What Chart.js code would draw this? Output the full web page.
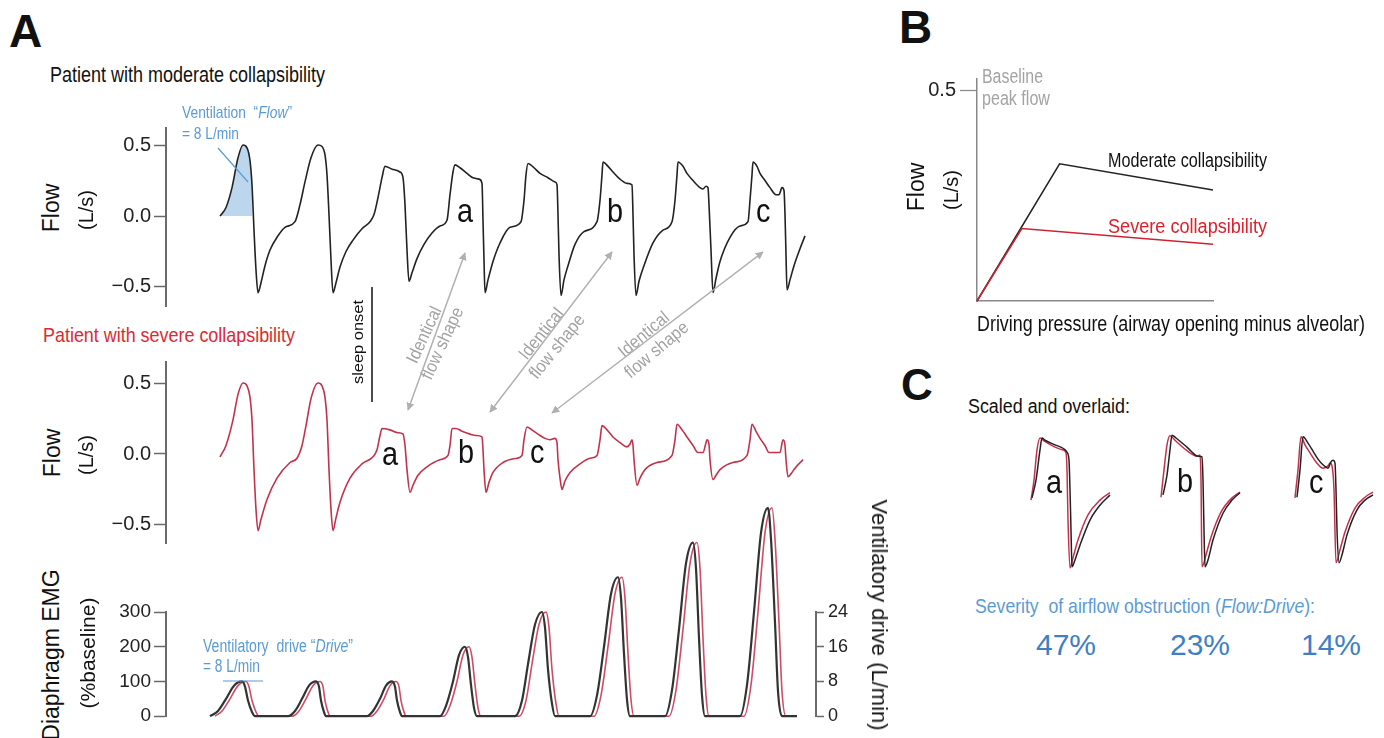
<!DOCTYPE html>
<html><head><meta charset="utf-8">
<script src="https://cdn.jsdelivr.net/npm/chart.js@4.4.1/dist/chart.umd.min.js"></script>
<style>
html,body{margin:0;padding:0;background:#fff;}
body{width:1384px;height:738px;position:relative;overflow:hidden;font-family:"Liberation Sans",Arial,sans-serif;color:#111;}
canvas{position:absolute;}
.t{position:absolute;white-space:nowrap;line-height:1;transform-origin:0 0;}
svg{position:absolute;left:0;top:0;}
</style></head><body>
<script>
// ---------------- DATA ----------------
// time in 50 ms samples, flow in L/s
const moderateT = [0,6,12,18,23,27,30,32,34,36,38,41,45,50,57,65,75,
80,85,91,98,102,105,107,109,111,113,116,120,126,133,142,150,
154,158,162,165,172,180,183,185,187,189,192,197,204,212,220,227,
230,233,235,240,247,253,259,262,263,264,265,268,273,280,290,301,
304,306,308,314,320,328,335,337,338,339,341,344,348,355,364,377,
380,382,383,388,393,400,407,412,413,414,416,419,424,433,443,452,
455,457,458,463,467,473,480,483,486,488,489,491,493,496,500,510,520,528,
530,532,533,537,540,545,550,556,559,562,564,565,566,567,570,574,580,585];
const moderateFlow = [0,0.06,0.20,0.41,0.50,0.48,0.39,0.22,-0.10,-0.38,-0.54,-0.47,-0.35,-0.24,-0.15,-0.08,-0.04,
0.08,0.24,0.41,0.50,0.49,0.43,0.29,0.01,-0.31,-0.54,-0.47,-0.36,-0.25,-0.17,-0.09,-0.04,
0.01,0.13,0.27,0.35,0.33,0.31,0.27,0.08,-0.24,-0.46,-0.40,-0.30,-0.20,-0.12,-0.07,-0.03,
0.15,0.31,0.36,0.34,0.30,0.27,0.26,0.23,-0.03,-0.31,-0.54,-0.45,-0.32,-0.19,-0.08,-0.04,
0.11,0.29,0.37,0.34,0.30,0.27,0.24,0.22,0.01,-0.27,-0.56,-0.45,-0.35,-0.20,-0.11,-0.04,
0.11,0.29,0.38,0.35,0.31,0.26,0.23,0.22,0.01,-0.27,-0.56,-0.46,-0.35,-0.19,-0.10,-0.04,
0.11,0.29,0.38,0.35,0.30,0.25,0.20,0.19,0.21,0.20,0.08,-0.24,-0.54,-0.44,-0.32,-0.15,-0.07,-0.04,
0.11,0.29,0.38,0.35,0.30,0.25,0.20,0.15,0.15,0.20,0.18,0.01,-0.27,-0.52,-0.45,-0.35,-0.23,-0.14];
const ventilationPoints = 8; // first inspiration (shaded "Flow" area)

const severeT = [0,6,13,18,23,27,30,32,34,36,38,41,47,57,70,77,
82,86,91,98,102,105,107,109,111,113,116,120,130,142,153,
157,160,162,170,178,183,185,187,190,193,198,207,220,228,
230,232,236,242,250,256,262,263,264,266,269,273,283,297,302,
304,307,312,318,325,330,335,337,338,340,342,345,350,360,370,377,
380,382,387,393,400,407,410,412,413,414,417,420,425,437,452,
455,457,462,467,473,478,483,486,487,489,490,493,496,500,513,527,
530,532,536,540,545,549,555,560,563,565,566,568,571,575,583];
const severeFlow = [-0.02,0.06,0.24,0.42,0.50,0.48,0.40,0.24,-0.11,-0.39,-0.54,-0.46,-0.32,-0.17,-0.06,-0.03,
0.06,0.20,0.39,0.50,0.48,0.40,0.24,-0.11,-0.39,-0.54,-0.45,-0.34,-0.17,-0.07,-0.02,
0.03,0.13,0.18,0.17,0.15,0.14,0.06,-0.11,-0.27,-0.22,-0.15,-0.09,-0.04,-0.01,
0.06,0.18,0.18,0.16,0.14,0.13,0.12,0.03,-0.11,-0.27,-0.20,-0.13,-0.06,-0.03,-0.01,
0.10,0.19,0.17,0.14,0.11,0.10,0.11,0.08,-0.04,-0.17,-0.25,-0.19,-0.13,-0.07,-0.03,-0.01,
0.10,0.20,0.17,0.12,0.08,0.05,0.07,0.10,0.06,-0.04,-0.22,-0.17,-0.11,-0.06,-0.01,
0.10,0.21,0.17,0.12,0.06,0.01,0.01,0.08,0.10,0.07,-0.04,-0.18,-0.15,-0.11,-0.06,-0.01,
0.10,0.21,0.16,0.11,0.06,0.01,0.01,0.01,0.10,0.06,-0.04,-0.16,-0.14,-0.10,-0.04];

// diaphragm EMG, % of baseline (8 L/min = 100 %)
const emgModerateT = [-10,-2,6,14,22,25,28,32,35, 68,75,82,89,96,99,101,104,106, 147,153,160,166,172,175,177,180,182, 220,226,233,239,245,248,251,254,257, 295,302,308,315,322,325,328,332,335, 370,377,384,391,398,401,404,407,410, 445,452,459,466,473,476,479,482,485, 520,527,534,541,548,551,555,558,562, 577];
const emgModerate = [0,15,50,88,100,85,45,12,0, 0,15,50,88,100,85,45,12,0, 0,15,50,88,100,85,45,12,0, 0,30,100,176,200,170,90,24,0, 0,45,150,264,300,255,135,36,0, 0,60,200,352,400,340,180,48,0, 0,75,250,440,500,425,225,60,0, 0,90,300,528,600,510,270,72,0, 0];
const emgSevereT = [-5,2,10,18,26,29,32,36,39, 72,79,86,93,100,103,105,108,110, 151,157,164,170,176,179,181,184,186, 224,230,237,243,249,252,255,258,261, 299,306,312,319,326,329,332,336,339, 374,381,388,395,402,405,408,411,414, 449,456,463,470,477,480,483,486,489, 524,531,538,545,552,555,559,562,566, 577];
const emgSevere = [0,15,50,88,100,85,45,12,0, 0,15,50,88,100,85,45,12,0, 0,15,50,88,100,85,45,12,0, 0,30,100,176,200,170,90,24,0, 0,45,150,264,300,255,135,36,0, 0,60,200,352,400,340,180,48,0, 0,75,250,440,500,425,225,60,0, 0,90,300,528,600,510,270,72,0, 0];

// Panel B: pressure-flow relationship
const bModerateP = [0, 0.35, 1.0];
const bModerateFlow = [0, 0.326, 0.264];
const bSevereP = [0, 0.19, 1.0];
const bSevereFlow = [0, 0.172, 0.135];

// Panel C: scaled flow shapes (relative time, flow scaled to peak)
const cAModT = [7,11,15,17,20,30,38,42,44,45,46,47,50,55,65,75,85];
const cAMod = [-0.05,0.26,0.79,1.0,0.96,0.88,0.82,0.75,0.61,0.09,-0.61,-1.26,-1.14,-0.88,-0.44,-0.18,0];
const cASevT = [6,9,12,15,19,30,38,41,42,43,45,48,53,63,75,85];
const cASev = [-0.09,0.26,0.79,1.0,0.95,0.84,0.79,0.74,0.44,-0.44,-1.28,-1.1,-0.79,-0.35,-0.09,0.04];
const cBModT = [8,12,15,17,21,32,43,47,48,49,50,53,58,68,77,85];
const cBMod = [0,0.35,0.79,1.05,1.0,0.84,0.68,0.67,0.26,-0.61,-1.26,-1.14,-0.79,-0.32,-0.09,0.04];
const cBSevT = [6,9,12,15,20,31,42,45,46,47,51,56,66,77,85];
const cBSev = [-0.04,0.44,0.88,1.04,0.96,0.79,0.68,0.70,0.26,-1.26,-1.05,-0.74,-0.30,-0.05,0.05];
const cCModT = [7,10,13,18,23,28,33,38,41,43,45,46,47,49,52,57,67,75,83];
const cCMod = [-0.04,0.44,1.02,0.91,0.77,0.63,0.53,0.47,0.58,0.61,0.56,0.09,-0.61,-1.19,-1.05,-0.70,-0.26,-0.09,0];
const cCSevT = [5,8,11,15,20,26,33,38,40,42,44,46,50,55,65,75,83];
const cCSev = [-0.05,0.44,1.02,0.88,0.74,0.58,0.47,0.51,0.56,0.51,0.09,-1.19,-0.96,-0.65,-0.23,-0.04,0.05];

// tick labels
const flowTicks = [-0.5, 0, 0.5];
const flowTickLabels = ['\u22120.5', '0.0', '0.5'];
const emgTicks = [0, 100, 200, 300];
const emgTickLabels = ['0', '100', '200', '300'];
const driveTicks = [0, 8, 16, 24];
const driveTickLabels = ['0', '8', '16', '24'];
const bTicks = [0.5];
const bTickLabels = ['0.5'];
const severityLabels = ['47%', '23%', '14%'];

// ---------------- DRAWING ----------------
const FONT = '"Liberation Sans", Arial, sans-serif';
Chart.defaults.font.family = FONT;
const BLACK = '#222', RED = '#c3324d', AX = '#6a6a6a';
const BLUE = '#5b9bd5', BLUE2 = '#3f7fc4';

function series(xs, ys, color, width, extra) {
  return Object.assign({
    data: xs.map((x, i) => ({x: x, y: ys[i]})),
    borderColor: color, borderWidth: width, pointRadius: 0,
    cubicInterpolationMode: 'monotone', fill: false, clip: false
  }, extra || {});
}
function yAxis(min, max, ticks, labels, o) {
  return {
    type: 'linear', position: o.pos || 'left', min: min, max: max,
    afterBuildTicks: s => { s.ticks = ticks.map(v => ({value: v})); },
    afterFit: s => { s.width = o.w; },
    grid: {display: true, drawOnChartArea: false, drawTicks: true, tickLength: o.tl,
           tickColor: o.color || AX, tickWidth: o.tw || 1.5, color: o.color || AX},
    border: {display: true, color: o.color || AX, width: o.bw || 2},
    ticks: {color: '#222', font: {size: o.fs, family: FONT}, padding: o.pad,
            autoSkip: false, maxRotation: 0, callback: (v, i) => labels[i]}
  };
}
function mkChart(area, pad, axW, datasets, scales) {
  const cv = document.createElement('canvas');
  const W = area.w + pad.l + pad.r, H = area.h + pad.t + pad.b;
  cv.width = W; cv.height = H;
  cv.style.left = (area.l - pad.l) + 'px'; cv.style.top = (area.t - pad.t) + 'px';
  cv.style.width = W + 'px'; cv.style.height = H + 'px';
  document.body.appendChild(cv);
  return new Chart(cv, {
    type: 'line',
    data: {datasets: datasets},
    options: {
      responsive: false, animation: false, events: [],
      layout: {padding: {left: pad.l - (axW.l || 0), right: pad.r - (axW.r || 0), top: pad.t, bottom: pad.b}},
      plugins: {legend: {display: false}, tooltip: {enabled: false}},
      scales: scales
    }
  });
}
const xTime = {type: 'linear', min: -54, max: 596, display: false};

// Panel A – moderate collapsibility flow
mkChart({l: 166, t: 128, w: 650, h: 178}, {l: 80, t: 16, r: 10, b: 16}, {l: 70}, [
  series(moderateT, moderateFlow, BLACK, 1.6),
  series(moderateT.slice(0, ventilationPoints), moderateFlow.slice(0, ventilationPoints), 'rgba(0,0,0,0)', 0,
         {fill: 'origin', backgroundColor: '#bcd6ee'})
], {x: xTime, y: yAxis(-0.634, 0.62, flowTicks, flowTickLabels, {w: 70, tl: 12, fs: 20, pad: 3})});

// Panel A – severe collapsibility flow
mkChart({l: 166, t: 362, w: 650, h: 181}, {l: 80, t: 16, r: 10, b: 16}, {l: 70}, [
  series(severeT, severeFlow, RED, 1.6)
], {x: xTime, y: yAxis(-0.627, 0.648, flowTicks, flowTickLabels, {w: 70, tl: 12, fs: 20, pad: 3})});

// Panel A – diaphragm EMG / drive
mkChart({l: 166, t: 612, w: 650, h: 105}, {l: 80, t: 120, r: 60, b: 14}, {l: 70, r: 50}, [
  series(emgModerateT, emgModerate, '#333', 2.2),
  series(emgSevereT, emgSevere, '#d24a66', 1.6)
], {x: xTime,
    y: yAxis(0, 300, emgTicks, emgTickLabels, {w: 70, tl: 12, fs: 19, pad: 3}),
    y2: yAxis(0, 24, driveTicks, driveTickLabels, {pos: 'right', w: 50, tl: 8, fs: 18, pad: 4})});

// Panel B
mkChart({l: 977, t: 77, w: 236, h: 230}, {l: 70, t: 14, r: 10, b: 10}, {l: 60}, [
  series(bSevereP, bSevereFlow, '#cc2232', 1.5, {cubicInterpolationMode: 'default', tension: 0}),
  series(bModerateP, bModerateFlow, BLACK, 1.5, {cubicInterpolationMode: 'default', tension: 0})
], {x: {type: 'linear', min: 0, max: 1, display: true, afterFit: s => { s.height = 0; },
        ticks: {display: false}, grid: {display: true, drawOnChartArea: false, drawTicks: false},
        border: {display: true, color: '#888', width: 1.5}},
    y: yAxis(0, 0.5275, bTicks, bTickLabels, {w: 60, tl: 17, fs: 20, pad: 4, color: '#888', bw: 1.5, tw: 1.2})});

// Panel C
const cX = {type: 'linear', min: 0, max: 90, display: false};
const cY = {type: 'linear', min: -1.404, max: 1.14, display: false};
[[1025, cAModT, cAMod, cASevT, cASev], [1155, cBModT, cBMod, cBSevT, cBSev], [1290, cCModT, cCMod, cCSevT, cCSev]]
  .forEach(p => {
    mkChart({l: p[0], t: 430, w: 90, h: 145}, {l: 6, t: 6, r: 6, b: 6}, {}, [
      series(p[1], p[2], BLACK, 1.5),
      series(p[3], p[4], RED, 1.5)
    ], {x: cX, y: cY});
  });

// ---------------- TEXT ----------------
function txt(s, x, base, size, o) {
  o = o || {};
  const d = document.createElement('div');
  d.className = 't'; d.innerHTML = s;
  d.style.fontSize = size + 'px';
  d.style.top = (base - 0.8465 * size) + 'px';
  if (o.color) d.style.color = o.color;
  if (o.bold) d.style.fontWeight = 'bold';
  document.body.appendChild(d);
  const m = d.getBoundingClientRect().width;
  const sx = o.w ? o.w / m : (o.sx || 1);
  d.style.transform = 'scaleX(' + sx + ')';
  d.style.left = (o.center ? x - m * sx / 2 : x) + 'px';
  return d;
}
function rtxt(s, cx, cy, size, ang, o) {
  o = o || {};
  const d = document.createElement('div');
  d.className = 't'; d.innerHTML = s;
  d.style.fontSize = size + 'px';
  d.style.left = cx + 'px'; d.style.top = cy + 'px';
  if (o.color) d.style.color = o.color;
  if (o.lh) { d.style.lineHeight = o.lh; d.style.textAlign = 'center'; }
  document.body.appendChild(d);
  const m = d.getBoundingClientRect().width;
  const sx = o.len ? o.len / m : (o.sx || 1);
  d.style.transform = 'rotate(' + ang + 'deg) scaleX(' + sx + ') translate(-50%,-50%)';
  return d;
}

txt('A', 9, 47, 46, {bold: true});
txt('B', 899, 43, 46, {bold: true});
txt('C', 901, 400, 44, {bold: true});

txt('Patient with moderate collapsibility', 50, 83, 22, {w: 275});
txt('Ventilation&nbsp; \u201c<i>Flow</i>\u201d', 182, 118, 17, {w: 110, color: BLUE});
txt('= 8 L/min', 182, 139, 17, {w: 57, color: BLUE});
txt('Patient with severe collapsibility', 43, 342, 21, {w: 252, color: '#e0282f'});
txt('Ventilatory&nbsp; drive \u201c<i>Drive</i>\u201d', 203, 652, 18, {w: 150, color: BLUE});
txt('= 8 L/min', 203, 672, 18, {w: 57, color: BLUE});

const L = 34, LS = 0.85;
txt('a', 465, 222, L, {center: true, sx: LS});
txt('b', 615, 222, L, {center: true, sx: LS});
txt('c', 763, 222, L, {center: true, sx: LS});
txt('a', 390, 465, L, {center: true, sx: LS});
txt('b', 466, 463, L, {center: true, sx: LS});
txt('c', 537, 463, L, {center: true, sx: LS});
txt('a', 1054, 493, L, {center: true, sx: LS});
txt('b', 1185, 492, L, {center: true, sx: LS});
txt('c', 1316, 493, L, {center: true, sx: LS});

rtxt('Flow', 51, 207.5, 23, -90);
rtxt('(L/s)', 86, 210, 20, -90);
rtxt('Flow', 52, 453, 23, -90);
rtxt('(L/s)', 86, 455, 20, -90);
rtxt('Diaphragm EMG', 51, 655, 23, -90);
rtxt('(%baseline)', 87, 653, 21, -90);
rtxt('Ventilatory drive (L/min)', 879, 615, 22, 90);
rtxt('sleep onset', 357, 342, 15, -90, {len: 84});
const GREY = '#a3a3a3';
rtxt('Identical<br>flow shape', 433, 339, 18, -65, {color: GREY, lh: 1.12, sx: 0.9});
rtxt('Identical<br>flow shape', 549, 340, 18, -51, {color: GREY, lh: 1.12, sx: 0.9});
rtxt('Identical<br>flow shape', 650, 342, 18, -40, {color: GREY, lh: 1.12, sx: 0.9});

txt('Baseline', 982, 83, 20, {w: 61, color: GREY});
txt('peak flow', 982, 105, 20, {w: 68, color: GREY});
txt('Moderate collapsibility', 1108, 167, 20, {w: 159});
txt('Severe collapsibility', 1108, 233, 20, {w: 159, color: '#e0202a'});
txt('Driving pressure (airway opening minus alveolar)', 977, 332, 22, {w: 388});
rtxt('Flow', 916, 187, 23, -90);
rtxt('(L/s)', 951, 190, 20, -90);

txt('Scaled and overlaid:', 968, 413, 20, {w: 162});
txt('Severity&nbsp; of airflow obstruction (<i>Flow:Drive</i>):', 975, 613, 21, {w: 340, color: BLUE});
txt(severityLabels[0], 1066, 655, 30, {center: true, color: BLUE2});
txt(severityLabels[1], 1200, 655, 30, {center: true, color: BLUE2});
txt(severityLabels[2], 1331, 655, 30, {center: true, color: BLUE2});

// ---------------- ANNOTATION LINES ----------------
const NS = 'http://www.w3.org/2000/svg';
const svg = document.createElementNS(NS, 'svg');
svg.setAttribute('width', 1384); svg.setAttribute('height', 738);
svg.innerHTML = '<defs><marker id="ah" viewBox="0 0 10 10" refX="9" refY="5" markerWidth="8" markerHeight="8" orient="auto-start-reverse" markerUnits="userSpaceOnUse">' +
  '<path d="M0,0 L10,5 L0,10 z" fill="#b0b0b0"/></marker></defs>';
function ln(x1, y1, x2, y2, col, w, arrows) {
  const l = document.createElementNS(NS, 'line');
  l.setAttribute('x1', x1); l.setAttribute('y1', y1); l.setAttribute('x2', x2); l.setAttribute('y2', y2);
  l.setAttribute('stroke', col); l.setAttribute('stroke-width', w);
  if (arrows) { l.setAttribute('marker-start', 'url(#ah)'); l.setAttribute('marker-end', 'url(#ah)'); }
  svg.appendChild(l);
}
ln(408, 410, 465, 253, '#b0b0b0', 1.5, true);
ln(490, 412, 612, 252, '#b0b0b0', 1.5, true);
ln(552, 413, 763, 252, '#b0b0b0', 1.5, true);
ln(372, 287, 372, 402, '#111', 1.5);
ln(218, 148, 248, 182, BLUE, 1.2);
ln(223, 681, 263, 681, BLUE, 1.2);
document.body.appendChild(svg);
</script>
</body></html>
